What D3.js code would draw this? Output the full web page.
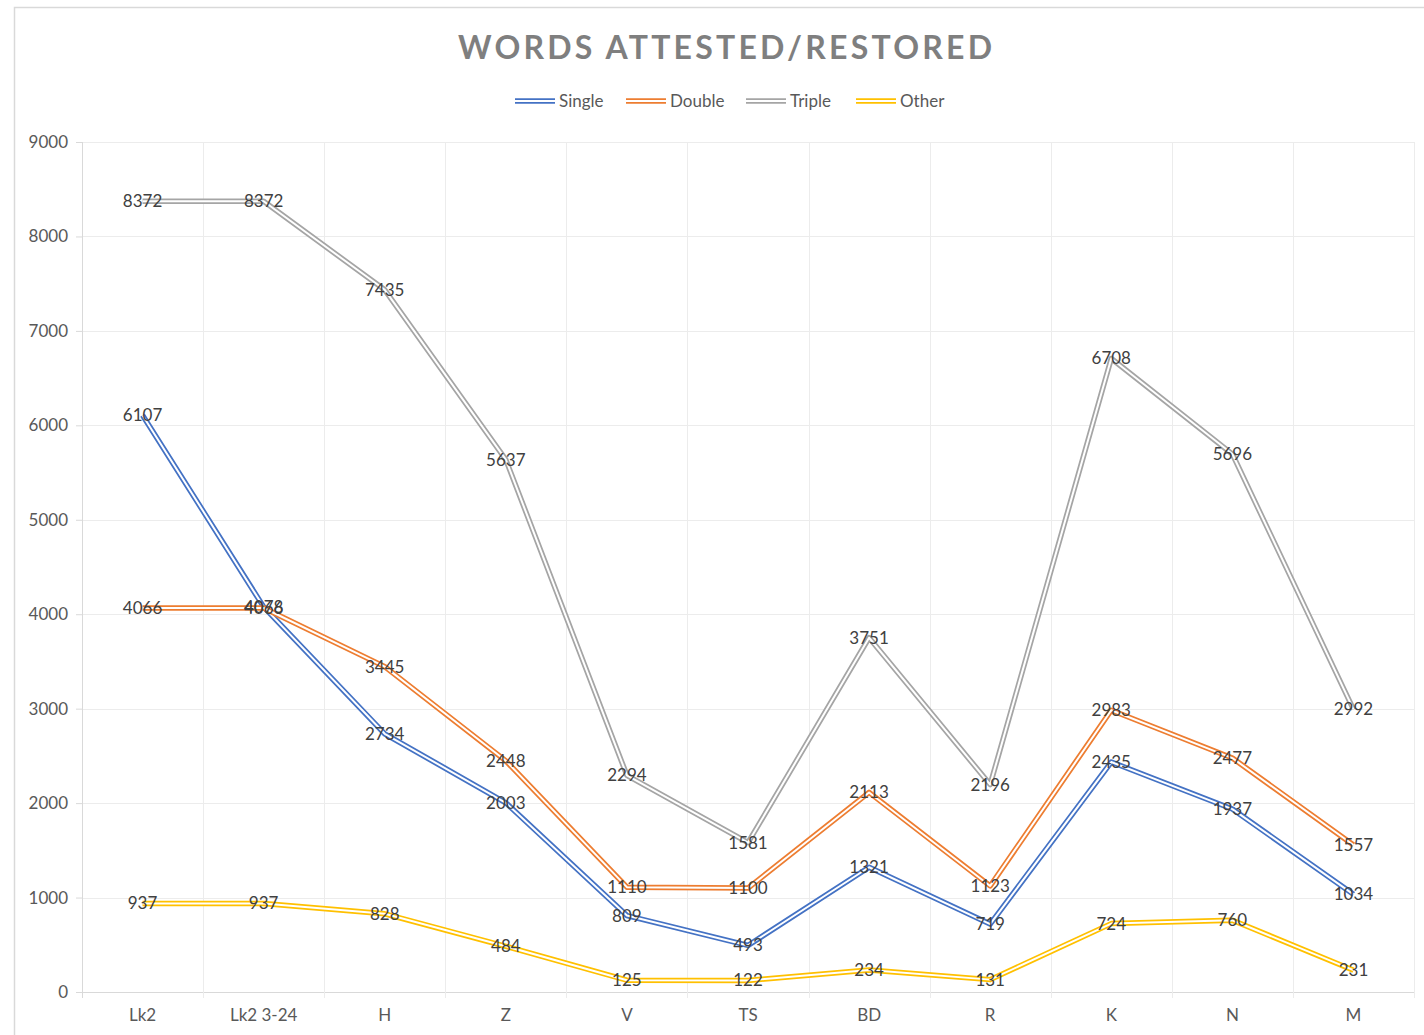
<!DOCTYPE html>
<html>
<head>
<meta charset="utf-8">
<script src="https://cdn.jsdelivr.net/npm/d3@7"></script>
<style>
  body { margin: 0; background: #fff; }
  svg { display: block; font-family: Lato, "Open Sans", sans-serif; }
</style>
</head>
<body>
<div id="chart"></div>
<script>
const categories = ["Lk2", "Lk2 3-24", "H", "Z", "V", "TS", "BD", "R", "K", "N", "M"];
const single = [6107, 4078, 2734, 2003, 809, 493, 1321, 719, 2435, 1937, 1034];
const double = [4066, 4066, 3445, 2448, 1110, 1100, 2113, 1123, 2983, 2477, 1557];
const triple = [8372, 8372, 7435, 5637, 2294, 1581, 3751, 2196, 6708, 5696, 2992];
const other = [937, 937, 828, 484, 125, 122, 234, 131, 724, 760, 231];
const yTicks = [0, 1000, 2000, 3000, 4000, 5000, 6000, 7000, 8000, 9000];

const seriesList = [
  { name: "Single", values: single, color: "#4472c4" },
  { name: "Double", values: double, color: "#ed7d31" },
  { name: "Triple", values: triple, color: "#a5a5a5" },
  { name: "Other", values: other, color: "#ffc000" },
];

const width = 1424, height = 1035;
const margin = { top: 142, right: 10, bottom: 43, left: 82 };
const innerW = width - margin.left - margin.right,
  innerH = height - margin.top - margin.bottom;

const svg = d3.select("#chart").append("svg")
  .attr("width", width).attr("height", height);

// cadre du graphique
svg.append("rect")
  .attr("x", 14.5).attr("y", 7.5)
  .attr("width", width + 20).attr("height", height + 20)
  .attr("fill", "none").attr("stroke", "#d9d9d9").attr("stroke-width", 1.5);

// Titre
svg.append("text")
  .attr("x", 725).attr("y", 59)
  .attr("text-anchor", "middle")
  .attr("textLength", 534).attr("lengthAdjust", "spacing")
  .style("font-size", "32px").style("font-weight", "bold")
  .attr("fill", "#7f7f7f")
  .text("WORDS ATTESTED/RESTORED");

const g = svg.append("g").attr("transform", `translate(${margin.left},${margin.top})`);

const x = d3.scaleBand().domain(categories).range([0, innerW]);
const y = d3.scaleLinear().domain([0, 9000]).range([innerH, 0]);

// grille horizontale
g.selectAll(".hgrid").data(yTicks).join("line")
  .attr("x1", 0).attr("x2", innerW)
  .attr("y1", d => Math.round(y(d)) + 0.5).attr("y2", d => Math.round(y(d)) + 0.5)
  .attr("stroke", d => d === 0 ? "#d9d9d9" : "#ececec").attr("stroke-width", 1);

// grille verticale (limites des catégories)
const bounds = categories.map(c => x(c)).concat([innerW]);
g.selectAll(".vgrid").data(bounds).join("line")
  .attr("x1", d => Math.round(d) + 0.5).attr("x2", d => Math.round(d) + 0.5)
  .attr("y1", 0).attr("y2", innerH + 6)
  .attr("stroke", (d, i) => i === 0 ? "#d9d9d9" : "#ececec").attr("stroke-width", 1);

// axe Y
const yAxis = g.append("g").call(d3.axisLeft(y).tickValues(yTicks).tickFormat(d3.format("d")).tickSize(6).tickPadding(8));
yAxis.select(".domain").remove();
yAxis.selectAll("line").attr("stroke", "#d9d9d9");
yAxis.selectAll("text").attr("fill", "#595959").style("font-size", "17px")
  .style("font-family", "Lato, sans-serif");

// axe X
const xAxis = g.append("g").attr("transform", `translate(0,${innerH})`)
  .call(d3.axisBottom(x).tickSize(0).tickPadding(17));
xAxis.select(".domain").remove();
xAxis.selectAll("text").attr("fill", "#595959").style("font-size", "17px")
  .style("font-family", "Lato, sans-serif");

const cx = c => x(c) + x.bandwidth() / 2;
const line = d3.line().x((d, i) => cx(categories[i])).y(d => y(d));

// Séries (ligne double : trait épais + trait blanc au centre)
seriesList.forEach(s => {
  g.append("path").datum(s.values)
    .attr("fill", "none").attr("stroke", s.color)
    .attr("stroke-width", 5.5).attr("stroke-linejoin", "round")
    .attr("d", line);
  g.append("path").datum(s.values)
    .attr("fill", "none").attr("stroke", "#fff")
    .attr("stroke-width", 2).attr("stroke-linejoin", "round")
    .attr("d", line);
});

// Étiquettes de données
seriesList.forEach(s => {
  g.selectAll(null).data(s.values).join("text")
    .attr("x", (d, i) => cx(categories[i]))
    .attr("y", d => y(d))
    .attr("dy", "0.35em")
    .attr("text-anchor", "middle")
    .attr("fill", "#404040")
    .style("font-size", "17px")
    .text(d => d);
});

// Légende
const legendX = [515, 626, 746, 856];
const leg = svg.append("g").attr("transform", "translate(0,101)");
seriesList.forEach((s, i) => {
  const item = leg.append("g").attr("transform", `translate(${legendX[i]},0)`);
  item.append("line").attr("x1", 0).attr("x2", 40).attr("y1", 0).attr("y2", 0)
    .attr("stroke", s.color).attr("stroke-width", 5.5);
  item.append("line").attr("x1", 0).attr("x2", 40).attr("y1", 0).attr("y2", 0)
    .attr("stroke", "#fff").attr("stroke-width", 2);
  item.append("text").attr("x", 44).attr("y", 0).attr("dy", "0.35em")
    .attr("fill", "#595959").style("font-size", "17px")
    .text(s.name);
});
</script>
</body>
</html>
